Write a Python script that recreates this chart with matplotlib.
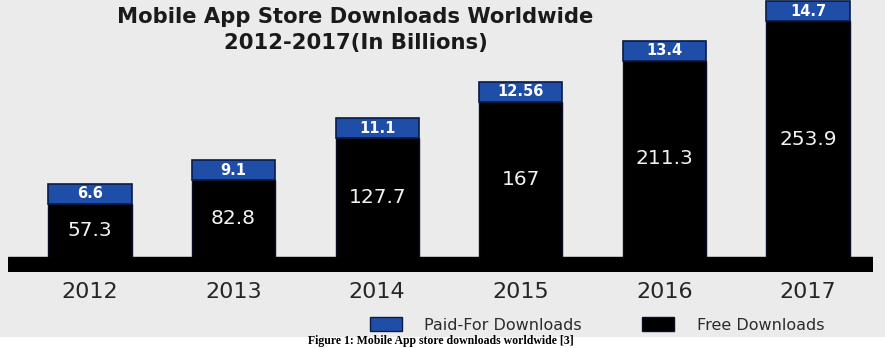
import matplotlib.pyplot as plt
from matplotlib.patches import Patch, Rectangle

years = ["2012", "2013", "2014", "2015", "2016", "2017"]
free = [57.3, 82.8, 127.7, 167, 211.3, 253.9]
paid = [6.6, 9.1, 11.1, 12.56, 13.4, 14.7]

W, H = 885, 348
BLUE = "#1f4ea8"
NAVY = "#0b1b45"
PAID_H = 21.5   # paid box is drawn as a fixed-size label box, like the original

fig = plt.figure(figsize=(W / 100, H / 100), dpi=100)
fig.patch.set_facecolor("white")
fig.patches.append(Rectangle((0, (H - 336) / H), 1, 336 / H,
                             transform=fig.transFigure, color="#ebebeb", zorder=-5))

ax = fig.add_axes([8 / W, (H - 272) / H, (873 - 8) / W, 272 / H])
ax.patch.set_alpha(0)

x = range(len(years))
ax.bar(x, free, width=0.58, color="black", edgecolor="#0a0f25", linewidth=1, zorder=2)
ax.bar(x, [PAID_H] * len(years), bottom=free, width=0.58, color=BLUE,
       edgecolor=NAVY, linewidth=1.2, zorder=2)

for i in x:
    ax.text(i, free[i] / 2, f"{free[i]:g}", ha="center", va="center",
            color="#f2f2f2", fontsize=14.5, zorder=4)
    ax.text(i, free[i] + PAID_H / 2, f"{paid[i]:g}", ha="center", va="center",
            color="white", fontsize=10.5, fontweight="bold", zorder=4)

ax.set_xlim(-0.571, 5.453)
ax.set_ylim(-16.1, 276.5)
ax.axhspan(-16.1, 0, color="black", zorder=3)

ax.set_xticks(list(x), years)
ax.tick_params(axis="x", length=0, pad=7, labelsize=16, labelcolor="#262626")
ax.set_yticks([])
for s in ax.spines.values():
    s.set_visible(False)

fig.text(355 / W, 1 - 17 / H, "Mobile App Store Downloads Worldwide",
         ha="center", va="center", fontsize=15.2, fontweight="bold", color="#1a1a1a")
fig.text(356 / W, 1 - 43 / H, "2012-2017(In Billions)",
         ha="center", va="center", fontsize=15.2, fontweight="bold", color="#1a1a1a")

handles = [Patch(facecolor=BLUE, edgecolor=NAVY), Patch(facecolor="black", edgecolor="#0a0f25")]
leg = fig.legend(handles, ["Paid-For Downloads", "Free Downloads"], loc="center",
                 bbox_to_anchor=(597 / W, 1 - 325 / H), ncol=2, frameon=False,
                 fontsize=11.5, handlelength=2.0, handleheight=0.9,
                 handletextpad=1.4, columnspacing=3.8)
for t in leg.get_texts():
    t.set_color("#2b2b2b")

fig.text(441 / W, 1 / H, "Figure 1: Mobile App store downloads worldwide [3]",
         ha="center", va="bottom", fontsize=8.5, fontweight="bold",
         family="Liberation Serif", color="black")

fig.savefig("out.png", dpi=100)
plt.close(fig)
